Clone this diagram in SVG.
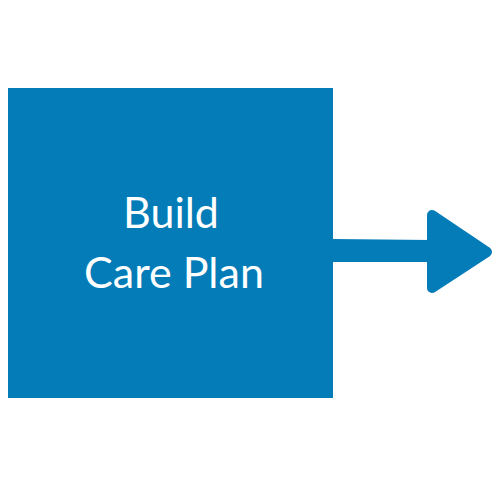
<svg xmlns="http://www.w3.org/2000/svg" width="500" height="500" viewBox="0 0 500 500">
<style>
.fill{fill:#037CB8}
.lbl{font-family:Lato,"Open Sans",sans-serif;font-size:43px;fill:#ffffff;text-anchor:middle}
</style>
<rect width="500" height="500" fill="#ffffff"/>
<g id="connectors">
<path d="M333 239 L432 240 L432 262 L333 262 Z" class="fill"/>
<path d="M432 215 L432 288 L487 252 Z" class="fill" stroke="#037CB8" stroke-width="10" stroke-linejoin="round"/>
</g>
<g id="node-build-care-plan">
<rect x="8" y="88" width="325" height="310" class="fill"/>
<text x="171" y="228" class="lbl">Build</text>
<text x="174" y="288" class="lbl">Care Plan</text>
</g>
</svg>
